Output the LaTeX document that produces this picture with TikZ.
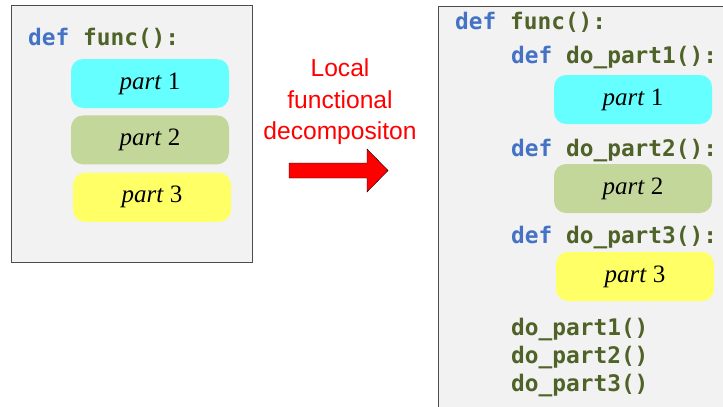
\documentclass[tikz,border=0pt]{standalone}
\usepackage{fontspec}
\setmainfont{Liberation Serif}
\setsansfont{Liberation Sans}
\setmonofont{DejaVu Sans Mono}
\usetikzlibrary{positioning}

\definecolor{kwblue}{RGB}{68,114,196}
\definecolor{fnolive}{RGB}{79,98,40}
\definecolor{boxgray}{RGB}{242,242,242}
\definecolor{partcyan}{RGB}{102,255,255}
\definecolor{partolive}{RGB}{196,215,155}
\definecolor{partyellow}{RGB}{255,255,102}

\tikzset{
  codebox/.style={draw=black!70, fill=boxgray, line width=0.8pt},
  code/.style={anchor=base west, inner sep=0pt, text=fnolive,
    font=\ttfamily\bfseries\fontsize{22.8}{26}\selectfont},
  partbox/.style={rounded corners=12pt, minimum width=158pt, minimum height=49pt,
    inner sep=0pt, font=\fontsize{25}{28}\selectfont},
}

\begin{document}
\begin{tikzpicture}[x=1pt,y=-1pt]
  \useasboundingbox (0,0) rectangle (723,407);
  \clip (0,0) rectangle (723,407);
  % before
  \draw[codebox] (11,5) rectangle (252,262);
  \node[code] (fdef) at (28,45) {\textcolor{kwblue}{def} func():};
  \node[partbox, fill=partcyan] (p1) at (150,83.5) {\textit{part} 1};
  \node[partbox, fill=partolive, below=7pt of p1] (p2) {\textit{part} 2};
  \node[partbox, fill=partyellow, below=8pt of p2, xshift=2pt] (p3) {\textit{part} 3};
  % arrow
  \node[font=\sffamily\fontsize{24.6}{31.5}\selectfont, text=red, align=center] (lbl) at (340,102)
    {Local\\functional\\decompositon};
  \draw[fill=red] (289,163) -- (367,163) -- (367,149) -- (388,170.5) -- (367,192)
    -- (367,178) -- (289,178) -- cycle;
  % after
  \draw[codebox] (438,6) rectangle (740,420);
  \node[code] (gdef) at (455,29) {\textcolor{kwblue}{def} func():};
  \node[code] (d1) at (511,63) {\textcolor{kwblue}{def} do\_part1():};
  \node[partbox, fill=partcyan] (q1) at (633,99.5) {\textit{part} 1};
  \node[code] (d2) at (511,156) {\textcolor{kwblue}{def} do\_part2():};
  \node[partbox, fill=partolive] (q2) at (633,188.5) {\textit{part} 2};
  \node[code] (d3) at (511,243) {\textcolor{kwblue}{def} do\_part3():};
  \node[partbox, fill=partyellow] (q3) at (635,276.5) {\textit{part} 3};
  \node[code] (c1) at (511,335) {do\_part1()};
  \node[code] (c2) at (511,363) {do\_part2()};
  \node[code] (c3) at (511,391) {do\_part3()};
\end{tikzpicture}
\end{document}
